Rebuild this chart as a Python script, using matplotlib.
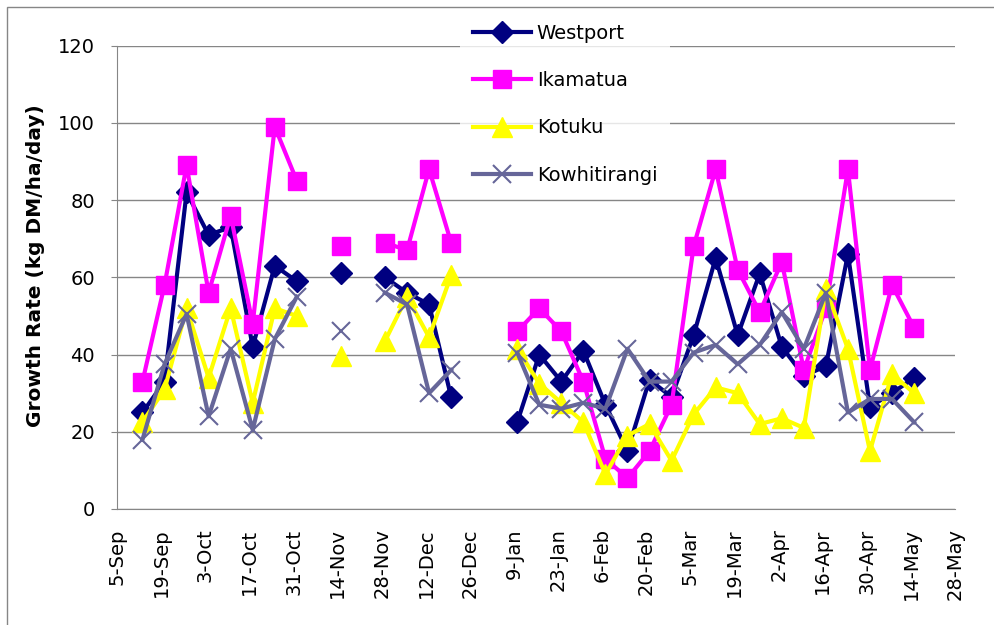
#importing libraries
import numpy as np
import pandas as pd
import matplotlib
matplotlib.use("Agg")
import matplotlib.pyplot as plt
from matplotlib.patches import Rectangle

nan = np.nan

#weekly sampling dates (blank weeks have no readings)
dates = ["2011-09-13", "2011-09-20", "2011-09-27", "2011-10-04", "2011-10-11", "2011-10-18",
         "2011-10-25", "2011-11-01", "2011-11-08", "2011-11-15", "2011-11-22", "2011-11-29",
         "2011-12-06", "2011-12-13", "2011-12-20", "2011-12-27", "2012-01-03", "2012-01-10",
         "2012-01-17", "2012-01-24", "2012-01-31", "2012-02-07", "2012-02-14", "2012-02-21",
         "2012-02-28", "2012-03-06", "2012-03-13", "2012-03-20", "2012-03-27", "2012-04-03",
         "2012-04-10", "2012-04-17", "2012-04-24", "2012-05-01", "2012-05-08", "2012-05-15"]

westport = [25, 33, 82, 71, 73, 42, 63, 59, nan, 61, nan, 60, 56, 53, 29, nan, nan, 22.5,
            40, 33, 41, 27, 15, 33.5, 29, 45, 65, 45, 61, 42, 34.5, 37, 66, 26.5, 30, 34]
ikamatua = [33, 58, 89, 56, 76, 48, 99, 85, nan, 68, nan, 69, 67, 88, 69, nan, nan, 46,
            52, 46, 33, 13, 8, 15, 27, 68, 88, 62, 51, 64, 36, 52, 88, 36, 58, 47]
kotuku = [22.5, 31, 52, 34, 52, 27.5, 52, 50, nan, 39.5, nan, 43.5, 55, 44.5, 60.5, nan, nan, 41.5,
          32.5, 27.5, 22.5, 9, 19, 22, 12.5, 24.5, 31.5, 30, 22, 23.5, 21, 57, 41.5, 15, 35, 30]
kowhitirangi = [18, 37.5, 50.5, 24, 41.5, 20.5, 44, 55, nan, 46, nan, 56, 53, 30, 36, nan, nan, 40.5,
                27, 26, 27.5, 26, 41.5, 33, 33, 40.5, 42.5, 37.5, 42.5, 51, 41.5, 56, 25, 28.5, 28.5, 22.5]

tick_labels = ["5-Sep", "19-Sep", "3-Oct", "17-Oct", "31-Oct", "14-Nov", "28-Nov", "12-Dec",
               "26-Dec", "9-Jan", "23-Jan", "6-Feb", "20-Feb", "5-Mar", "19-Mar", "2-Apr",
               "16-Apr", "30-Apr", "14-May", "28-May"]

x = pd.to_datetime(dates)
ticks = pd.date_range("2011-09-05", periods=len(tick_labels), freq="14D")

plt.rcParams["font.family"] = "DejaVu Sans"
grey = "#868686"

fig = plt.figure(figsize=(9.95, 6.25), dpi=100)
ax = fig.add_axes([117.3 / 995, 1 - 509 / 625, (955 - 117.3) / 995, (509 - 45.7) / 625])

ax.plot(x, westport, color="#000080", lw=3, marker="D", ms=11, mfc="#000080", mec="#000080", label="Westport")
ax.plot(x, ikamatua, color="#FF00FF", lw=3, marker="s", ms=13, mfc="#FF00FF", mec="#FF00FF", label="Ikamatua")
ax.plot(x, kotuku, color="#FFFF00", lw=3, marker="^", ms=14, mfc="#FFFF00", mec="#FFFF00", label="Kotuku")
ax.plot(x, kowhitirangi, color="#666699", lw=3, marker="x", ms=13, mew=1.5, label="Kowhitirangi")

ax.set_xlim(ticks[0], ticks[-1])
ax.set_ylim(0, 120)
ax.set_yticks(range(0, 121, 20))
ax.set_xticks(ticks)
ax.set_xticklabels(tick_labels, rotation=90)
ax.tick_params(axis="y", labelsize=14, length=4, color=grey, pad=12)
ax.tick_params(axis="x", labelsize=14, length=0, pad=14)

ax.grid(axis="y", color=grey, lw=1)
ax.set_axisbelow(True)
for s in ["top", "right"]:
    ax.spines[s].set_visible(False)
for s in ["left", "bottom"]:
    ax.spines[s].set_color(grey)

fig.text(36 / 995, 1 - 266 / 625, "Growth Rate (kg DM/ha/day)", rotation=90,
         ha="center", va="center", fontsize=14.5, fontweight="bold")

leg = ax.legend(loc="upper left", bbox_to_anchor=(460 / 995, 1 - 11 / 625),
                bbox_transform=fig.transFigure, fontsize=14, frameon=True,
                handlelength=3, handletextpad=0.3, labelspacing=1.46,
                borderpad=0.65, borderaxespad=0, fancybox=False)
leg.get_frame().set_facecolor("white")
leg.get_frame().set_edgecolor("none")

#outer chart border
fig.add_artist(Rectangle((7 / 995, -0.1), 1.2, 1.1 - 7 / 625, transform=fig.transFigure,
                         fill=False, edgecolor=grey, lw=1))

plt.savefig("out.png", dpi=100)
